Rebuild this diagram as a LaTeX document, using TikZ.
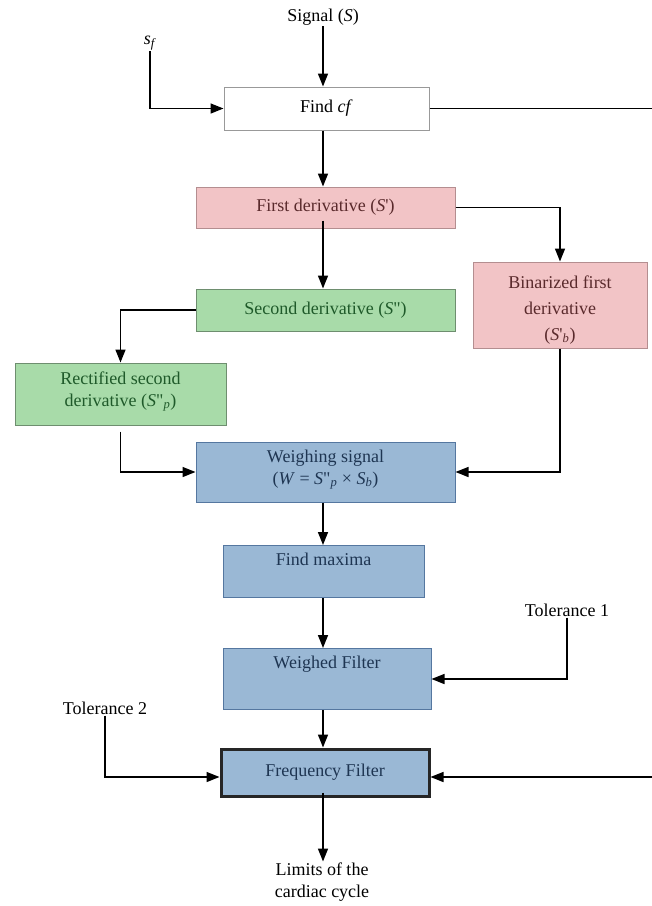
\documentclass[tikz,border=0pt]{standalone}
\usepackage{fontspec}
\setmainfont{Liberation Serif}[Ligatures=TeXOff]
\usepackage{tikz}
\usetikzlibrary{arrows.meta}
\definecolor{pinkfill}{HTML}{F2C4C6}
\definecolor{pinkline}{HTML}{B48E90}
\definecolor{pinktext}{HTML}{5A2A2C}
\definecolor{greenfill}{HTML}{A8DBA9}
\definecolor{greenline}{HTML}{6E8E6F}
\definecolor{greentext}{HTML}{1F5A2A}
\definecolor{bluefill}{HTML}{9AB8D5}
\definecolor{blueline}{HTML}{5577A0}
\definecolor{bluetext}{HTML}{1E3552}
\newcommand{\sub}[1]{\textsubscript{\textit{#1}}}
\tikzset{
	box/.style={draw, line width=1pt, inner xsep=4pt, inner ysep=4pt, align=center, text height=12pt, text depth=4pt},
	whitebox/.style={box, draw=gray!80, fill=white},
	pinkbox/.style={box, draw=pinkline, fill=pinkfill, text=pinktext},
	greenbox/.style={box, draw=greenline, fill=greenfill, text=greentext},
	bluebox/.style={box, draw=blueline, fill=bluefill, text=bluetext},
	lbl/.style={align=center, inner sep=1pt},
	flow/.style={line width=1.5pt, ->},
	>={Triangle[length=13pt,width=10pt]}
}

\begin{document}
\begin{tikzpicture}[x=1pt, y=-1pt, font=\fontsize{18}{22}\selectfont]
		\useasboundingbox (0,0) rectangle (652,906);
		\node[lbl] (signal) at (323,17) {Signal (\textit{S})};
		\node[lbl] (sf) at (150,43) {\textit{s}\sub{f}};
		\node[whitebox, minimum width=205pt, minimum height=43pt] (findcf) at (326.5,108.5) {Find \textit{cf}};
		\node[pinkbox, minimum width=174pt, minimum height=86pt, font=\fontsize{18}{26}\selectfont, text height=74pt, text depth=4pt] (binar) at (560,305) {Binarized first\\derivative\\(\textit{S}'\sub{b})};
		\node[pinkbox, minimum width=259pt, minimum height=41pt] (first) at (325.5,207.5) {First derivative (\textit{S}')};
		\node[greenbox, minimum width=259pt, minimum height=42pt] (second) at (325.5,310) {Second derivative (\textit{S}")};
		\node[greenbox, minimum width=211pt, minimum height=62pt, text height=34pt, text depth=10pt] (rectif) at (120.5,394) {Rectified second\\derivative (\textit{S}"\sub{p})};
		\node[bluebox, minimum width=259pt, minimum height=60pt, text height=34pt, text depth=10pt] (weigh) at (325.5,472) {Weighing signal\\(\textit{W} = \textit{S}"\sub{p} × \textit{S}\sub{b})};
		\node[bluebox, minimum width=201pt, inner ysep=8pt, text depth=24pt, anchor=north] (maxima) at (323.5,545) {Find maxima};
		\node[bluebox, minimum width=208pt, inner ysep=8pt, text depth=33pt, anchor=north] (weighed) at (327,648) {Weighed Filter};
		\node[bluebox, draw=black!85, line width=3pt, minimum width=208pt, minimum height=47pt] (freq) at (325,772.5) {Frequency Filter};
		\node[lbl] (tol1) at (567,610) {Tolerance 1};
		\node[lbl] (tol2) at (105,708) {Tolerance 2};
		\node[lbl] (limits) at (322,882) {Limits of the\\cardiac cycle};
		\coordinate (rtop) at (652,108.5);
		\coordinate (rbot) at (652,777);
		% main chain
		\draw[flow] (signal) -- (signal |- findcf.north);
		\draw[flow] (sf) |- (findcf.west);
		\draw[line width=1.5pt] (findcf.east) -- (rtop);
		\draw[flow] (findcf.south -| 323,0) -- (first.north -| 323,0);
		\draw[flow] (first.east) -| (binar.north);
		\draw[flow] ([yshift=8pt]first.south -| 323,0) -- (second.north -| 323,0);
		\draw[flow] (second.west) -| (rectif.north);
		\draw[flow] ([yshift=-6pt]rectif.south) |- (weigh.west);
		\draw[flow] (binar.south) |- (weigh.east);
		\draw[flow] (weigh.south -| 323,0) -- (maxima.north -| 323,0);
		\draw[flow] (maxima.south -| 323,0) -- (weighed.north -| 323,0);
		\draw[flow] (tol1) |- (weighed.east);
		\draw[flow] (weighed.south -| 323,0) -- (freq.north -| 323,0);
		% inputs to the frequency filter
		\draw[flow] (tol2) |- (freq.west |- rbot);
		\draw[flow] (rbot) -- (freq.east |- rbot);
		\draw[flow] ([yshift=5pt]freq.south -| 323,0) -- (limits.north -| 323,0);
	\end{tikzpicture}
\end{document}
